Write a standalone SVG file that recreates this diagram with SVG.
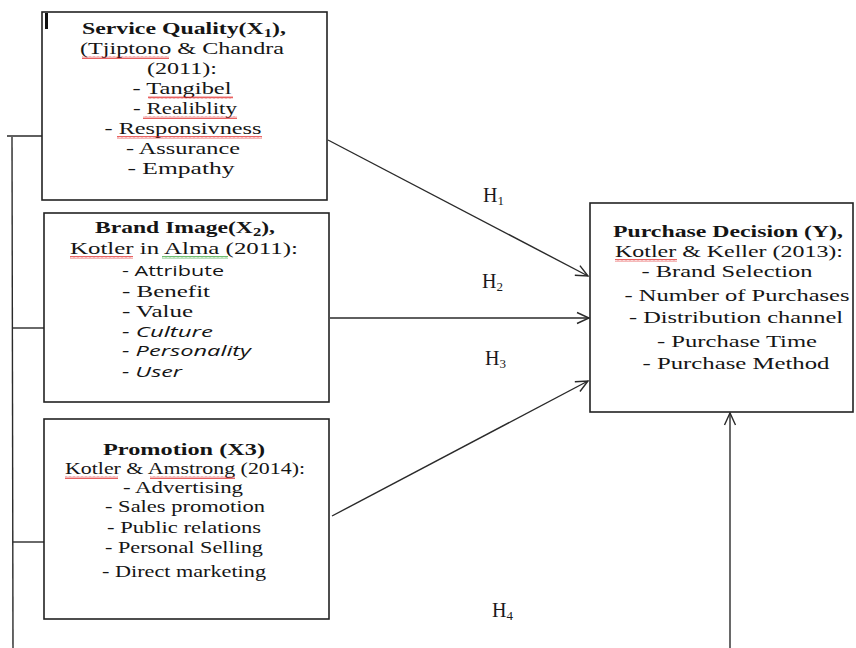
<svg xmlns="http://www.w3.org/2000/svg" width="856" height="648" viewBox="0 0 856 648">
<style>
.box{fill:#fff;stroke:#222;stroke-width:1.6}
.t{font-family:"Liberation Serif","Times New Roman",serif;font-size:17px;fill:#151515}
.b{font-weight:bold}
.c{text-anchor:middle}
.s{font-family:"Open Sans","Liberation Sans",sans-serif;font-size:15px;fill:#151515}
.i{font-style:italic}
.ln{stroke:#2a2a2a;stroke-width:1.4;fill:none}
.h{font-family:"Liberation Serif","Times New Roman",serif;font-size:20px;fill:#1a1a1a}
.sub{font-size:13px}
.wr{fill:url(#wavyR)}
.wg{fill:url(#wavyG)}
</style>
<defs>
<marker id="arr" markerUnits="userSpaceOnUse" markerWidth="16" markerHeight="14" refX="13" refY="7" orient="auto" overflow="visible">
<path d="M1,1.5 L13,7 L1,12.5" fill="none" stroke="#2a2a2a" stroke-width="1.4"/>
</marker>
<pattern id="wavyR" patternUnits="userSpaceOnUse" width="4" height="3">
<path d="M0,2.5 L1,0.5 L2,2.5 L3,0.5 L4,2.5" fill="none" stroke="#e02020" stroke-width="0.7"/>
</pattern>
<pattern id="wavyG" patternUnits="userSpaceOnUse" width="4" height="3">
<path d="M0,2.5 L1,0.5 L2,2.5 L3,0.5 L4,2.5" fill="none" stroke="#30a030" stroke-width="0.7"/>
</pattern>
</defs>

<g id="connectors">
<polyline class="ln" points="7,136 42,136"/>
<polyline class="ln" points="12,137 13,648"/>
<polyline class="ln" points="12,328 44,328"/>
<polyline class="ln" points="13,542 44,542"/>
<line class="ln" x1="328" y1="140" x2="588" y2="276" marker-end="url(#arr)"/>
<line class="ln" x1="330" y1="318" x2="589" y2="318" marker-end="url(#arr)"/>
<line class="ln" x1="332" y1="516" x2="588" y2="381" marker-end="url(#arr)"/>
<line class="ln" x1="730" y1="648" x2="730" y2="413" marker-end="url(#arr)"/>
<text class="h" x="483" y="202">H<tspan class="sub" dy="3">1</tspan></text>
<text class="h" x="482" y="288">H<tspan class="sub" dy="3">2</tspan></text>
<text class="h" x="485" y="365">H<tspan class="sub" dy="3">3</tspan></text>
<text class="h" x="492" y="617">H<tspan class="sub" dy="3">4</tspan></text>
</g>

<g id="service-quality">
<rect class="box" x="42" y="12" width="285" height="188"/>
<rect x="45" y="13" width="3" height="16" fill="#111"/>
<text class="t b c" x="184" y="34" textLength="204" lengthAdjust="spacingAndGlyphs">Service Quality(X<tspan font-size="12" dy="3">1</tspan><tspan dy="-3">),</tspan></text>
<text class="t c" x="182" y="54" textLength="204" lengthAdjust="spacingAndGlyphs">(Tjiptono &amp; Chandra</text>
<text class="t c" x="182" y="74" textLength="70" lengthAdjust="spacingAndGlyphs">(2011):</text>
<text class="t c" x="182" y="94" textLength="99" lengthAdjust="spacingAndGlyphs">- Tangibel</text>
<text class="t c" x="185" y="114" textLength="104" lengthAdjust="spacingAndGlyphs">- Realiblity</text>
<text class="t c" x="183" y="134" textLength="157" lengthAdjust="spacingAndGlyphs">- Responsivness</text>
<text class="t c" x="183" y="154" textLength="114" lengthAdjust="spacingAndGlyphs">- Assurance</text>
<text class="t c" x="181" y="174" textLength="107" lengthAdjust="spacingAndGlyphs">- Empathy</text>
<rect class="wr" x="82" y="56" width="87" height="3"/>
<rect class="wr" x="148" y="96" width="85" height="3"/>
<rect class="wr" x="143" y="116" width="94" height="3"/>
<rect class="wr" x="117" y="136" width="145" height="3"/>
</g>

<g id="brand-image">
<rect class="box" x="44" y="213" width="285" height="189"/>
<text class="t b c" x="185" y="233" textLength="180" lengthAdjust="spacingAndGlyphs">Brand Image(X<tspan font-size="12" dy="3">2</tspan><tspan dy="-3">),</tspan></text>
<text class="t c" x="184" y="254" textLength="228" lengthAdjust="spacingAndGlyphs">Kotler in Alma  (2011):</text>
<text class="s" x="122" y="276" textLength="102" lengthAdjust="spacingAndGlyphs">- Attribute</text>
<text class="t" x="122" y="297" textLength="88" lengthAdjust="spacingAndGlyphs">- Benefit</text>
<text class="t" x="122" y="317" textLength="71" lengthAdjust="spacingAndGlyphs">- Value</text>
<text class="s i" x="122" y="337" textLength="91" lengthAdjust="spacingAndGlyphs">- Culture</text>
<text class="s i" x="122" y="356" textLength="129" lengthAdjust="spacingAndGlyphs">- Personality</text>
<text class="s i" x="122" y="377" textLength="60" lengthAdjust="spacingAndGlyphs">- User</text>
<rect class="wr" x="70" y="256" width="63" height="3"/>
<rect class="wg" x="162" y="256" width="66" height="3"/>
</g>

<g id="promotion">
<rect class="box" x="44" y="419" width="285" height="200"/>
<text class="t b c" x="184" y="455" textLength="162" lengthAdjust="spacingAndGlyphs">Promotion (X3)</text>
<text class="t c" x="185" y="474" textLength="240" lengthAdjust="spacingAndGlyphs">Kotler &amp; Amstrong (2014):</text>
<text class="t c" x="183" y="493" textLength="120" lengthAdjust="spacingAndGlyphs">-  Advertising</text>
<text class="t c" x="185" y="512" textLength="160" lengthAdjust="spacingAndGlyphs">-  Sales promotion</text>
<text class="t c" x="184" y="533" textLength="154" lengthAdjust="spacingAndGlyphs">-  Public relations</text>
<text class="t c" x="184" y="553" textLength="158" lengthAdjust="spacingAndGlyphs">-  Personal Selling</text>
<text class="t c" x="184" y="577" textLength="164" lengthAdjust="spacingAndGlyphs">-  Direct marketing</text>
<rect class="wr" x="65" y="476" width="53" height="3"/>
<rect class="wr" x="150" y="476" width="85" height="3"/>
</g>

<g id="purchase-decision">
<rect class="box" x="590" y="203" width="263" height="209"/>
<text class="t b c" x="728" y="237" textLength="230" lengthAdjust="spacingAndGlyphs">Purchase Decision (Y),</text>
<text class="t c" x="729" y="257" textLength="228" lengthAdjust="spacingAndGlyphs">Kotler &amp; Keller (2013):</text>
<text class="t c" x="727" y="277" textLength="171" lengthAdjust="spacingAndGlyphs">- Brand Selection</text>
<text class="t c" x="737" y="301" textLength="225" lengthAdjust="spacingAndGlyphs">- Number of Purchases</text>
<text class="t c" x="736" y="323" textLength="214" lengthAdjust="spacingAndGlyphs">- Distribution channel</text>
<text class="t c" x="737" y="347" textLength="160" lengthAdjust="spacingAndGlyphs">- Purchase Time</text>
<text class="t c" x="736" y="369" textLength="187" lengthAdjust="spacingAndGlyphs">- Purchase Method</text>
<rect class="wr" x="615" y="259" width="62" height="3"/>
</g>
</svg>
